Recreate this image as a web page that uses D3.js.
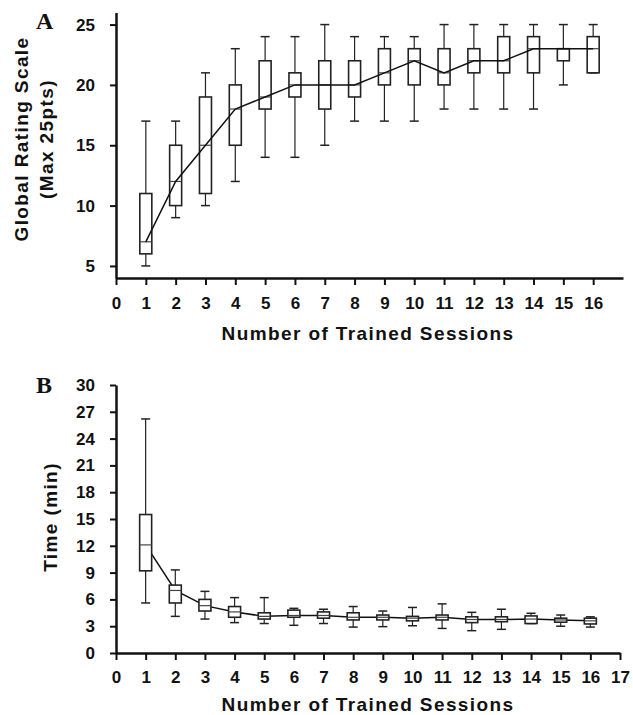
<!DOCTYPE html>
<html>
<head>
<meta charset="utf-8">
<script src="https://d3js.org/d3.v7.min.js"></script>
<style>
    body { margin: 0; background: #fff; }
    text { font-family: "Liberation Sans", Arial, sans-serif; font-weight: bold; fill: #111; }
</style>
</head>
<body>
<div id="chart-container"></div>
<script>

// BOX PLOTS - global rating & time per session

// Data

var sessions = [1, 2, 3, 4, 5, 6, 7, 8, 9, 10, 11, 12, 13, 14, 15, 16];

// Panel A - Global Rating Scale
var ratingMax = [17, 17, 21, 23, 24, 24, 25, 24, 24, 24, 25, 25, 25, 25, 25, 25];
var ratingQ3  = [11, 15, 19, 20, 22, 21, 22, 22, 23, 23, 23, 23, 24, 24, 23, 24];
var ratingMed = [7, 12, 15, 18, 19, 20, 20, 20, 21, 22, 21, 22, 22, 23, 23, 23];
var ratingQ1  = [6, 10, 11, 15, 18, 19, 18, 19, 20, 20, 20, 21, 21, 21, 22, 21];
var ratingMin = [5, 9, 10, 12, 14, 14, 15, 17, 17, 17, 18, 18, 18, 18, 20, 21];

// Panel B - Time (min)
var timeMax = [26.2, 9.3, 6.9, 6.2, 6.2, 5.0, 4.9, 5.2, 4.7, 5.1, 5.5, 4.55, 4.9, 4.45, 4.25, 4.05];
var timeQ3  = [15.5, 7.6, 6.0, 5.2, 4.5, 4.8, 4.6, 4.5, 4.25, 4.1, 4.25, 4.05, 4.05, 4.15, 3.9, 3.9];
var timeMed = [12.1, 7.0, 5.3, 4.6, 4.1, 4.2, 4.2, 4.0, 4.0, 3.9, 4.0, 3.75, 3.75, 3.8, 3.7, 3.6];
var timeQ1  = [9.2, 5.6, 4.7, 4.0, 3.8, 4.0, 3.9, 3.7, 3.7, 3.6, 3.7, 3.4, 3.5, 3.3, 3.45, 3.25];
var timeMin = [5.6, 4.1, 3.8, 3.4, 3.3, 3.1, 3.3, 2.9, 2.95, 3.05, 2.75, 2.5, 2.65, 3.3, 3.0, 2.9];

// Tick labels
var xTicksA = d3.range(0, 17);          // 0..16
var xTicksB = d3.range(0, 18);          // 0..17
var yTicksA = [5, 10, 15, 20, 25];
var yTicksB = [0, 3, 6, 9, 12, 15, 18, 21, 24, 27, 30];

var width = 633;
var height = 715;

var svg = d3.select("#chart-container")
            .append("svg")
            .attr("width", width)
            .attr("height", height);

svg.append("rect")
   .attr("width", width)
   .attr("height", height)
   .attr("fill", "#fff");

// Draw one panel

function drawPanel(opts) {

    var rows = sessions.map(function(s, i) {
        return { s: s, max: opts.max[i], q3: opts.q3[i], med: opts.med[i], q1: opts.q1[i], min: opts.min[i] };
    });

    var x = d3.scaleLinear().domain([0, 17]).range(opts.xRange);
    var y = d3.scaleLinear().domain(opts.yDomain).range(opts.yRange);

    var g = svg.append("g");
    var boxW = 12;
    var capW = 9;

    var line = d3.line()
                 .x(function(d) { return x(d.s); })
                 .y(function(d) { return y(d.med); });

    function drawLine() {
        g.append("path")
         .datum(rows)
         .attr("d", line)
         .attr("fill", "none")
         .attr("stroke", "#111")
         .attr("stroke-width", 1.5);
    }

    if (!opts.lineOnTop) drawLine();

    var box = g.selectAll(".box")
               .data(rows)
               .enter()
               .append("g")
               .attr("class", "box");

    // whiskers
    box.append("line")
       .attr("x1", function(d) { return x(d.s); })
       .attr("x2", function(d) { return x(d.s); })
       .attr("y1", function(d) { return y(d.max); })
       .attr("y2", function(d) { return y(d.min); })
       .attr("stroke", "#222")
       .attr("stroke-width", 1.2);

    // caps
    ["max", "min"].forEach(function(k) {
        box.append("line")
           .attr("x1", function(d) { return x(d.s) - capW / 2; })
           .attr("x2", function(d) { return x(d.s) + capW / 2; })
           .attr("y1", function(d) { return y(d[k]); })
           .attr("y2", function(d) { return y(d[k]); })
           .attr("stroke", "#222")
           .attr("stroke-width", 1.5);
    });

    // boxes
    box.append("rect")
       .attr("x", function(d) { return x(d.s) - boxW / 2; })
       .attr("width", boxW)
       .attr("y", function(d) { return y(d.q3); })
       .attr("height", function(d) { return y(d.q1) - y(d.q3); })
       .attr("fill", "#fff")
       .attr("stroke", "#222")
       .attr("stroke-width", 1.6);

    // medians
    box.append("line")
       .attr("x1", function(d) { return x(d.s) - boxW / 2; })
       .attr("x2", function(d) { return x(d.s) + boxW / 2; })
       .attr("y1", function(d) { return y(d.med); })
       .attr("y2", function(d) { return y(d.med); })
       .attr("stroke", "#444")
       .attr("stroke-width", 1.2);

    if (opts.lineOnTop) drawLine();

    // Axes

    var xAxis = g.append("g")
                 .attr("transform", "translate(0," + opts.yRange[0] + ")")
                 .call(d3.axisBottom(x)
                         .tickValues(opts.xTicks)
                         .tickFormat(d3.format("d"))
                         .tickSize(7)
                         .tickSizeOuter(0)
                         .tickPadding(opts.xPad));

    var yAxis = g.append("g")
                 .attr("transform", "translate(" + opts.xRange[0] + ",0)")
                 .call(d3.axisLeft(y)
                         .tickValues(opts.yTicks)
                         .tickSize(6)
                         .tickSizeOuter(0)
                         .tickPadding(15));

    [xAxis, yAxis].forEach(function(a) {
        a.select(".domain").attr("stroke", "#111").attr("stroke-width", 2.5);
        a.selectAll(".tick line").attr("stroke", "#111").attr("stroke-width", 2);
        a.selectAll(".tick text")
         .attr("fill", "#111")
         .style("font-size", "17px")
         .style("font-family", "'Liberation Sans', Arial, sans-serif")
         .style("font-weight", "bold");
    });

    // Titles

    svg.append("text")
       .attr("x", (opts.xRange[0] + 620) / 2)
       .attr("y", opts.xTitleY)
       .attr("text-anchor", "middle")
       .style("font-size", "19px")
       .style("letter-spacing", "1.4px")
       .text("Number of Trained Sessions");

    opts.yTitle.forEach(function(t, i) {
        svg.append("text")
           .attr("transform", "translate(" + opts.yTitleX[i] + "," + opts.yTitleMid + ") rotate(-90)")
           .attr("text-anchor", "middle")
           .style("font-size", "19px")
           .style("letter-spacing", "1.4px")
           .text(t);
    });

    svg.append("text")
       .attr("x", 36)
       .attr("y", opts.letterY)
       .style("font-family", "'Liberation Serif', 'Times New Roman', serif")
       .style("font-size", "24px")
       .text(opts.letter);
}

drawPanel({
    max: ratingMax, q3: ratingQ3, med: ratingMed, q1: ratingQ1, min: ratingMin,
    xRange: [116, 623], yDomain: [4, 26], yRange: [278, 12.5],
    xTicks: xTicksA, yTicks: yTicksA, xPad: 12,
    xTitleY: 340, yTitle: ["Global Rating Scale", "(Max 25pts)"],
    yTitleX: [28, 53], yTitleMid: 139,
    letter: "A", letterY: 29, lineOnTop: true
});

drawPanel({
    max: timeMax, q3: timeQ3, med: timeMed, q1: timeQ1, min: timeMin,
    xRange: [116, 620], yDomain: [0, 30], yRange: [653, 385],
    xTicks: xTicksB, yTicks: yTicksB, xPad: 11,
    xTitleY: 711, yTitle: ["Time (min)"],
    yTitleX: [57], yTitleMid: 517,
    letter: "B", letterY: 393, lineOnTop: false
});

</script>
</body>
</html>
